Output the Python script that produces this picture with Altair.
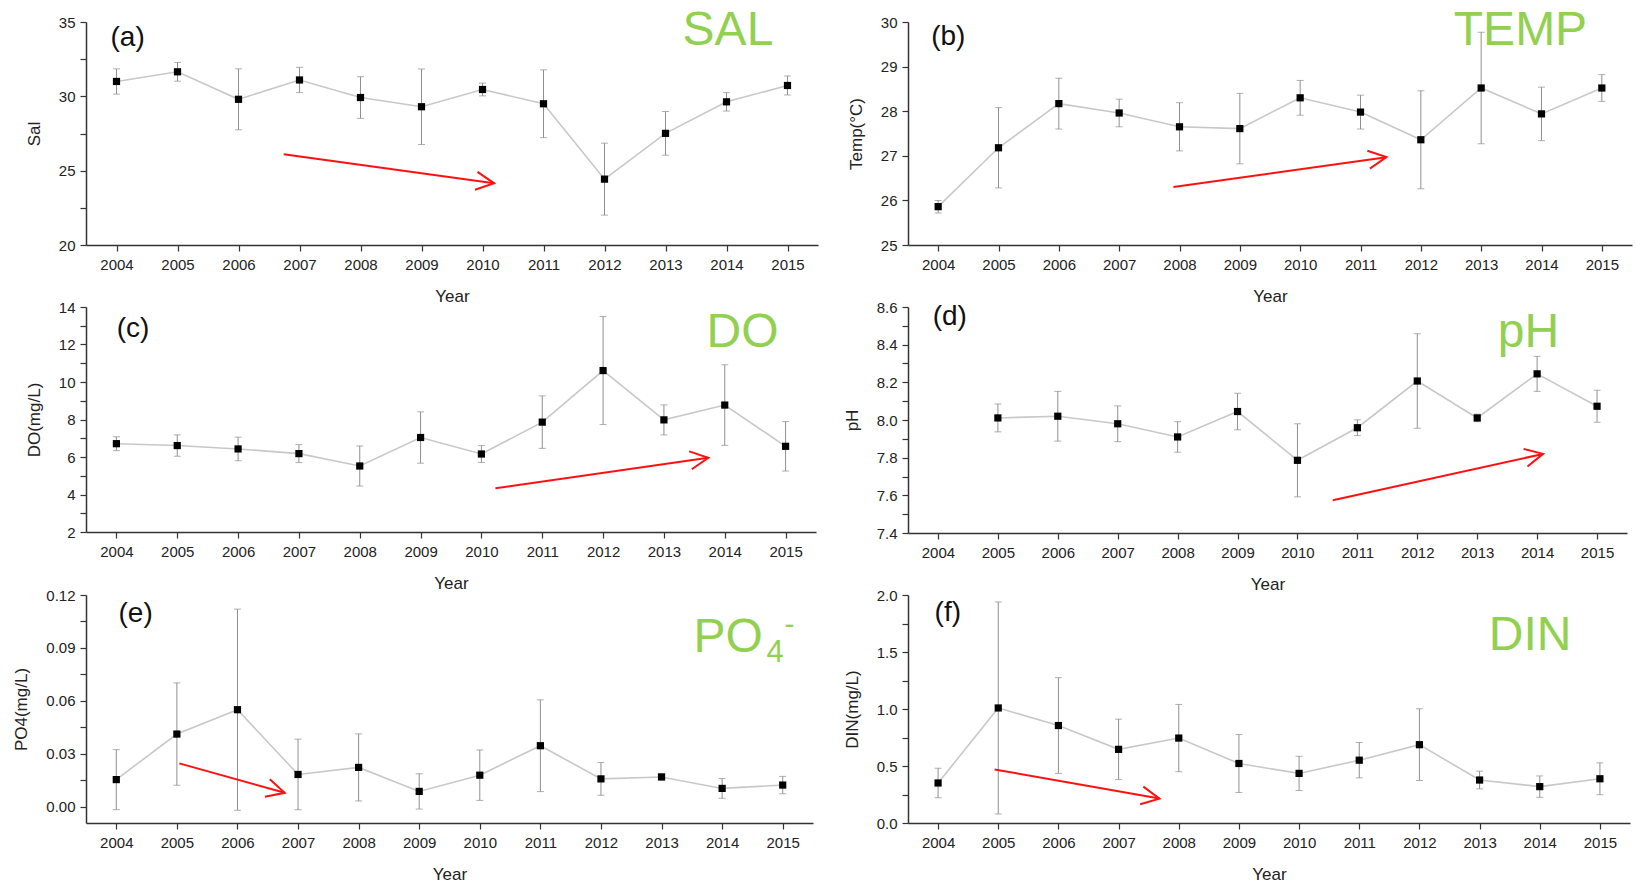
import json
import math

import altair as alt
import pandas as pd

FONT = "Liberation Sans"
GREEN = "#92D050"
RED = "#ff1010"

years = list(range(2004, 2016))

# yearly means and standard deviations
sal_mean = [31.0, 31.65, 29.8, 31.1, 29.92, 29.3, 30.46, 29.5, 24.43, 27.51, 29.63, 30.73]
sal_err = [0.85, 0.63, 2.05, 0.85, 1.4, 2.54, 0.43, 2.28, 2.42, 1.47, 0.62, 0.64]

temp_mean = [25.86, 27.18, 28.17, 27.96, 27.65, 27.61, 28.3, 27.98, 27.36, 28.52, 27.94, 28.52]
temp_err = [0.14, 0.9, 0.57, 0.31, 0.54, 0.79, 0.39, 0.38, 1.1, 1.25, 0.6, 0.3]

do_mean = [6.71, 6.61, 6.43, 6.18, 5.52, 7.04, 6.16, 7.86, 10.61, 7.98, 8.77, 6.57]
do_err = [0.37, 0.57, 0.63, 0.48, 1.07, 1.37, 0.45, 1.4, 2.88, 0.8, 2.15, 1.32]

ph_mean = [None, 8.011, 8.02, 7.98, 7.91, 8.045, 7.786, 7.959, 8.207, 8.011, 8.245, 8.073]
ph_err = [None, 0.074, 0.132, 0.095, 0.081, 0.097, 0.194, 0.042, 0.251, 0.02, 0.093, 0.085]

po4_mean = [0.0154, 0.0412, 0.055, 0.0183, 0.0223, 0.0087, 0.0179, 0.0346, 0.0158, 0.0169, 0.0104, 0.0123]
po4_err = [0.017, 0.029, 0.057, 0.020, 0.019, 0.010, 0.0143, 0.026, 0.0093, 0.0017, 0.0056, 0.0049]

din_mean = [0.351, 1.009, 0.855, 0.646, 0.745, 0.522, 0.435, 0.551, 0.687, 0.377, 0.319, 0.388]
din_err = [0.13, 0.93, 0.42, 0.265, 0.295, 0.254, 0.15, 0.155, 0.315, 0.078, 0.094, 0.14]

# trend arrows (start year, start value, end year, end value)
trend_a = [2006.74, 26.1, 2010.19, 24.15]
trend_b = [2007.9, 26.3, 2011.43, 26.97]
trend_c = [2010.23, 4.33, 2013.73, 5.96]
trend_d = [2010.59, 7.574, 2014.1, 7.82]
trend_e = [2005.04, 0.0246, 2006.78, 0.0079]
trend_f = [2004.94, 0.47, 2007.68, 0.214]

X_DOMAIN = [2003.5, 2015.5]

PANELS = {
    "a": dict(mean=sal_mean, err=sal_err, trend=trend_a, title="Sal", letter="(a)",
              domain=[20, 35], major=[20, 25, 30, 35], minor=[22.5, 27.5, 32.5], fmt="d",
              w=732, h=223, name=[("SAL", 596.6, 23, 48, "alphabetic")], letter_pos=(41.6, 24)),
    "b": dict(mean=temp_mean, err=temp_err, trend=trend_b, title="Temp(°C)", letter="(b)",
              domain=[25, 30], major=[25, 26, 27, 28, 29, 30], minor=[25.5, 26.5, 27.5, 28.5, 29.5], fmt="d",
              w=724, h=223, name=[("TEMP", 545.8, 23, 48, "alphabetic")], letter_pos=(40.3, 23)),
    "c": dict(mean=do_mean, err=do_err, trend=trend_c, title="DO(mg/L)", letter="(c)",
              domain=[2, 14], major=[2, 4, 6, 8, 10, 12, 14], minor=[3, 5, 7, 9, 11, 13], fmt="d",
              w=730, h=225, name=[("DO", 620.6, 40, 48, "alphabetic")], letter_pos=(47.1, 30)),
    "d": dict(mean=ph_mean, err=ph_err, trend=trend_d, title="pH", letter="(d)",
              domain=[7.4, 8.6], major=[7.4, 7.6, 7.8, 8.0, 8.2, 8.4, 8.6],
              minor=[7.5, 7.7, 7.9, 8.1, 8.3, 8.5], fmt=".1f",
              w=719, h=226, name=[("pH", 589.8, 40, 48, "alphabetic")], letter_pos=(41.8, 18)),
    "e": dict(mean=po4_mean, err=po4_err, trend=trend_e, title="PO4(mg/L)", letter="(e)",
              domain=[-0.0092, 0.12], major=[0.0, 0.03, 0.06, 0.09, 0.12],
              minor=[0.015, 0.045, 0.075, 0.105], fmt=".2f",
              w=727, h=228,
              name=[("PO", 607.6, 57, 48, "alphabetic"), ("4", 680.6, 67, 31, "alphabetic"),
                    ("-", 698.6, 30, 30, "middle")],
              letter_pos=(49.6, 27)),
    "f": dict(mean=din_mean, err=din_err, trend=trend_f, title="DIN(mg/L)", letter="(f)",
              domain=[0, 2], major=[0.0, 0.5, 1.0, 1.5, 2.0], minor=[0.25, 0.75, 1.25, 1.75], fmt=".1f",
              w=722, h=228, name=[("DIN", 580.8, 55, 48, "alphabetic")], letter_pos=(39.8, 26)),
}


def panel(key):
    p = PANELS[key]
    rows = [
        {"year": yr, "mean": m, "lo": m - e, "hi": m + e}
        for yr, m, e in zip(years, p["mean"], p["err"])
        if m is not None
    ]
    df = pd.DataFrame(rows)

    xscale = alt.Scale(domain=X_DOMAIN, nice=False, zero=False)
    yscale = alt.Scale(domain=p["domain"], nice=False, zero=False)
    xaxis = alt.Axis(title="Year", values=years, format="d", tickSize=6, labelPadding=6,
                     titlePadding=16, grid=False, labelOverlap=False, labelFlush=False)
    ylabels = "indexof(%s, datum.value) >= 0 ? datum.label : ''" % json.dumps(p["major"])
    yaxis = alt.Axis(title=p["title"], values=sorted(p["major"] + p["minor"]), format=p["fmt"],
                     labelExpr=ylabels, tickSize=6, labelPadding=5, titlePadding=15,
                     grid=False, labelOverlap=False, labelFlush=False)

    def xe(field):
        return alt.X(field, type="quantitative", scale=xscale, axis=xaxis)

    def ye(field):
        return alt.Y(field, type="quantitative", scale=yscale, axis=yaxis)

    base = alt.Chart(df)
    line = base.mark_line(color="#c8c8c8", strokeWidth=1.6).encode(x=xe("year"), y=ye("mean"))
    bars = base.mark_rule(color="#8f8f8f", strokeWidth=1).encode(x=xe("year"), y=ye("lo"), y2="hi:Q")
    cap_lo = base.mark_tick(orient="horizontal", size=7, thickness=1, color="#8f8f8f").encode(
        x=xe("year"), y=ye("lo"))
    cap_hi = base.mark_tick(orient="horizontal", size=7, thickness=1, color="#8f8f8f").encode(
        x=xe("year"), y=ye("hi"))
    pts = base.mark_square(size=52, color="black", opacity=1).encode(x=xe("year"), y=ye("mean"))

    # trend arrow: shaft plus an open arrowhead rotated along the shaft
    x1, y1, x2, y2 = p["trend"]
    tdf = pd.DataFrame({"x1": [x1], "y1": [y1], "x2": [x2], "y2": [y2]})
    dxp = (x2 - x1) / (X_DOMAIN[1] - X_DOMAIN[0]) * p["w"]
    dyp = -(y2 - y1) / (p["domain"][1] - p["domain"][0]) * p["h"]
    ang = math.degrees(math.atan2(dyp, dxp)) % 360
    shaft = alt.Chart(tdf).mark_rule(color=RED, strokeWidth=2).encode(
        x=xe("x1"), y=ye("y1"), x2="x2:Q", y2="y2:Q")
    head = alt.Chart(tdf).mark_point(
        shape="M -2 -1 L 0 0 L -2 1", size=324, angle=ang, filled=False,
        stroke=RED, strokeWidth=2, opacity=1, strokeJoin="miter",
    ).encode(x=xe("x2"), y=ye("y2"))

    texts = []
    lx, ly = p["letter_pos"]
    texts.append(
        alt.Chart(pd.DataFrame({"t": [p["letter"]]})).mark_text(
            font=FONT, fontSize=28, color="#111111", align="center", baseline="alphabetic"
        ).encode(text="t:N", x=alt.value(lx), y=alt.value(ly))
    )
    for txt, tx, ty, fs, bl in p["name"]:
        texts.append(
            alt.Chart(pd.DataFrame({"t": [txt]})).mark_text(
                font=FONT, fontSize=fs, color=GREEN, align="left", baseline=bl
            ).encode(text="t:N", x=alt.value(tx), y=alt.value(ty))
        )

    return alt.layer(line, bars, cap_lo, cap_hi, pts, shaft, head, *texts).properties(
        width=p["w"], height=p["h"])


chart = (
    alt.concat(
        panel("a"), panel("b"), panel("c"), panel("d"), panel("e"), panel("f"),
        columns=2, spacing={"row": 62, "column": 90}, bounds="flush",
    )
    .properties(padding={"left": 12, "top": 7, "right": 2, "bottom": 2}, background="white")
    .configure_view(stroke=None)
    .configure_axis(
        domainColor="#333333", domainWidth=1.5, tickColor="#333333", tickWidth=1.2,
        labelFont=FONT, labelFontSize=15, labelColor="#222222",
        titleFont=FONT, titleFontSize=17, titleFontWeight="normal", titleColor="#222222",
    )
)

chart.save("out.html", embed_options={"renderer": "svg", "actions": False})
